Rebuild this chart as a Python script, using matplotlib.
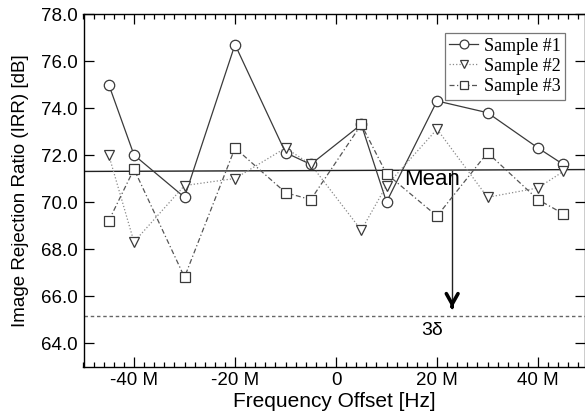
import matplotlib
matplotlib.use("Agg")
from matplotlib import pyplot as plt
from matplotlib.ticker import MultipleLocator, FuncFormatter

# frequency offsets in MHz
offsets = [-45, -40, -30, -20, -10, -5, 5, 10, 20, 30, 40, 45]
sample1 = [75.0, 72.0, 70.2, 76.7, 72.1, 71.6, 73.3, 70.0, 74.3, 73.8, 72.3, 71.6]
sample2 = [72.0, 68.3, 70.7, 71.0, 72.3, 71.6, 68.8, 70.7, 73.1, 70.2, 70.6, 71.3]
sample3 = [69.2, 71.4, 66.8, 72.3, 70.4, 70.1, 73.3, 71.2, 69.4, 72.1, 70.1, 69.5]

mean_x = [-50, 49.3]
mean_y = [71.30, 71.38]
limit_3d = 65.15
arrow_x = 23
arrow_top = 71.33
arrow_tip = 65.5

sans = ["Liberation Sans", "DejaVu Sans"]
serif = ["Liberation Serif", "DejaVu Serif"]

fig = plt.figure(figsize=(5.85, 4.15), dpi=100)
ax = fig.add_axes([83.5 / 585, 1 - 366.5 / 415, (585 - 83.5) / 585, (366.5 - 14) / 415])

ax.plot(offsets, sample1, "-", color="#3a3a3a", lw=0.9, marker="o", ms=7.5,
        mfc="white", mec="#3a3a3a", mew=0.9, label="Sample #1", zorder=3)
ax.plot(offsets, sample2, ":", color="#8a8a8a", lw=0.9, marker="v", ms=7.5,
        mfc="white", mec="#3a3a3a", mew=0.9, label="Sample #2", zorder=3)
ax.plot(offsets, sample3, color="#555555", lw=0.9, dashes=(4, 2, 1, 2), marker="s",
        ms=6.5, mfc="white", mec="#3a3a3a", mew=0.9, label="Sample #3", zorder=3)

ax.plot(mean_x, mean_y, "-", color="#222222", lw=1.0, zorder=2)
ax.axhline(limit_3d, color="#666666", lw=1.0, dashes=(2.5, 2))

# arrow from mean down to the 3-sigma limit
ax.plot([arrow_x, arrow_x], [arrow_top, arrow_tip], color="#222222", lw=1.0)
ax.annotate("", xy=(arrow_x, arrow_tip), xytext=(arrow_x, arrow_tip + 0.05),
            arrowprops=dict(arrowstyle="->,head_length=0.75,head_width=0.42",
                            color="black", lw=2.6, shrinkA=0, shrinkB=0))

ax.text(19, 70.95, "Mean", fontsize=16, family=sans, ha="center", va="center")
ax.text(19, 64.55, "3\u03b4", fontsize=14, family=sans, ha="center", va="center")

ax.set_xlim(-50, 49.3)
ax.set_ylim(63, 78)
ax.xaxis.set_major_locator(MultipleLocator(20))
ax.xaxis.set_minor_locator(MultipleLocator(2))
ax.yaxis.set_major_locator(MultipleLocator(2))
ax.xaxis.set_major_formatter(FuncFormatter(lambda v, p: "0" if abs(v) < 1e-9 else "%d M" % v))
ax.yaxis.set_major_formatter(FuncFormatter(lambda v, p: "%.1f" % v))

ax.tick_params(which="both", direction="in", top=True, right=True, width=0.9, colors="black")
ax.tick_params(which="major", length=7, labelsize=13.5, pad=4)
ax.tick_params(which="minor", length=3.5)
for lab in ax.get_xticklabels() + ax.get_yticklabels():
    lab.set_family(sans)
for s in ax.spines.values():
    s.set_linewidth(1.0)

ax.set_xlabel("Frequency Offset [Hz]", fontsize=15, family=sans, labelpad=2)
ax.set_ylabel("Image Rejection Ratio (IRR) [dB]", fontsize=13.5, family=sans, labelpad=9)

leg = ax.legend(loc="upper right", bbox_to_anchor=(565 / 585, 1 - 33 / 415),
                bbox_transform=fig.transFigure, prop={"family": serif, "size": 13},
                handlelength=1.6, handletextpad=0.3, borderpad=0.25, labelspacing=0.18,
                borderaxespad=0, fancybox=False, framealpha=1, edgecolor="#777777",
                markerscale=0.85)
leg.get_frame().set_linewidth(0.9)

fig.savefig("out.png", dpi=100)
